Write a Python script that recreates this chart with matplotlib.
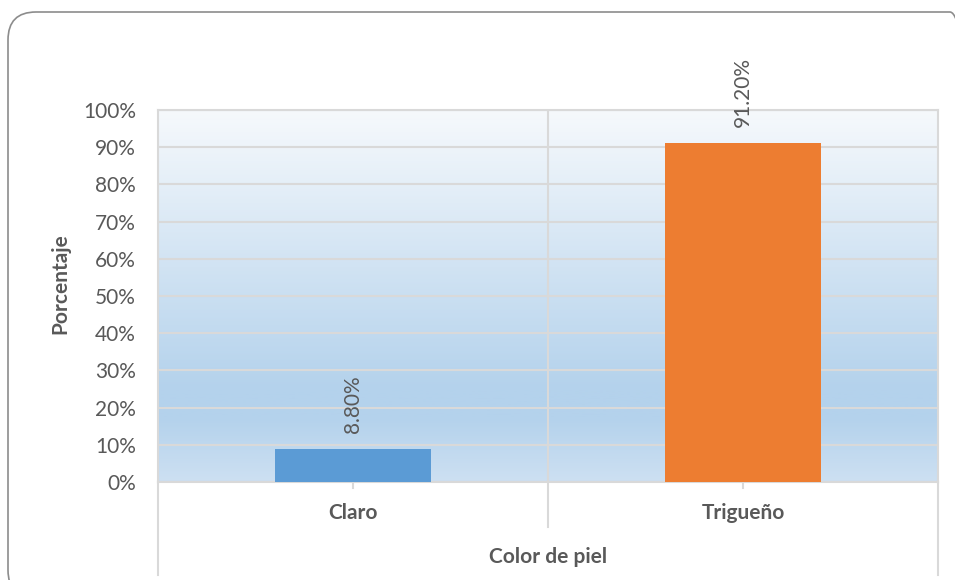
import numpy as np
import matplotlib
matplotlib.use('Agg')
import matplotlib.pyplot as plt
from matplotlib.colors import LinearSegmentedColormap
from matplotlib.patches import FancyBboxPatch

plt.rcParams['font.family'] = ['Lato', 'DejaVu Sans']

categorias = ['Claro', 'Trigueño']
porcentajes = [8.80, 91.20]
etiquetas = ['8.80%', '91.20%']
colores = ['#5B9BD5', '#ED7D31']
yticks = list(range(0, 101, 10))

gris = '#595959'
linea = '#D9D9D9'
W, H = 955, 580

fig = plt.figure(figsize=(9.55, 5.8), dpi=100)

# capa de fondo en pixeles para el borde redondeado (y hacia arriba)
fondo = fig.add_axes([0, 0, 1, 1], zorder=-1)
fondo.set_xlim(0, W)
fondo.set_ylim(0, H)
fondo.axis('off')
fondo.add_patch(FancyBboxPatch((8, H - 598), 970, 586,
                               boxstyle='round,pad=0,rounding_size=28',
                               fill=False, edgecolor='#8C8C8C', linewidth=1.2))

ax = fig.add_axes([158 / W, 98 / H, 780 / W, 372 / H])

# fondo degradado del area de trazado (arriba claro, abajo azul)
cmap = LinearSegmentedColormap.from_list('fondo', [
    (0.0, '#F6F9FC'), (0.75, '#B4D2EC'), (0.83, '#B4D2EC'), (1.0, '#CDE0F2')])
grad = np.linspace(0, 1, 256).reshape(-1, 1)
ax.imshow(grad, cmap=cmap, aspect='auto', extent=[0, 2, 0, 100], zorder=0)

x = np.arange(len(categorias)) + 0.5
ax.bar(x, porcentajes, width=0.4, color=colores, zorder=3)

for xi, v, t in zip(x, porcentajes, etiquetas):
    ax.text(xi, v + 4.3, t, rotation=90, ha='center', va='bottom',
            fontsize=15, color=gris, zorder=4)

ax.set_xlim(0, 2)
ax.set_ylim(0, 100)
ax.set_yticks(yticks)
ax.set_yticklabels(['{}%'.format(v) for v in yticks], fontsize=15, color=gris)
ax.tick_params(axis='y', length=0, pad=16)
ax.set_xticks([])

ax.grid(axis='y', color=linea, linewidth=1.5, zorder=1)
ax.axvline(1, color=linea, linewidth=1.5, zorder=1)
for s in ['top', 'right', 'left', 'bottom']:
    ax.spines[s].set_color(linea)
    ax.spines[s].set_linewidth(1.5)

# lineas de la tabla de categorias bajo el eje
tr = ax.transAxes
ax.plot([0, 0], [0, -0.25], color=linea, lw=1.5, transform=tr, clip_on=False)
ax.plot([1, 1], [0, -0.25], color=linea, lw=1.5, transform=tr, clip_on=False)
ax.plot([0.5, 0.5], [0, -0.121], color=linea, lw=1.5, transform=tr, clip_on=False)
for xi in [0.25, 0.75]:
    ax.plot([xi, xi], [0, -0.015], color=linea, lw=1.5, transform=tr, clip_on=False)

for xi, c in zip([0.25, 0.75], categorias):
    ax.text(xi, -31 / 372, c, transform=tr, ha='center', va='center',
            fontsize=15, fontweight='bold', color=gris)
ax.text(0.5, -75 / 372, 'Color de piel', transform=tr, ha='center', va='center',
        fontsize=15, fontweight='bold', color=gris)

fig.text(60 / W, 1 - 284 / H, 'Porcentaje', rotation=90, ha='center', va='center',
         fontsize=15, fontweight='bold', color=gris)

fig.savefig('out.png', dpi=100)
